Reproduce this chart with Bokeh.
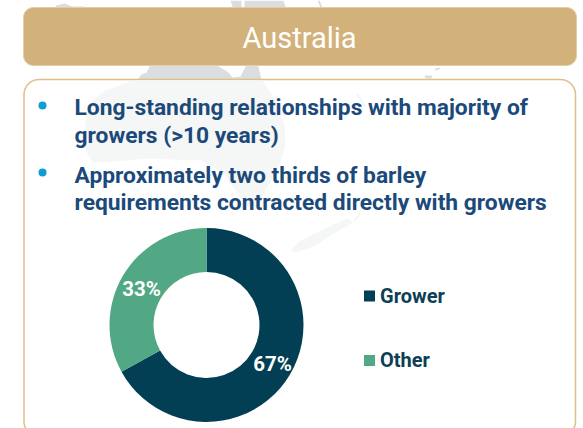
import numpy as np
from bokeh.plotting import figure
from bokeh.models import Range1d
from bokeh.core.properties import value
from bokeh.embed import file_html
from bokeh.resources import INLINE

# --- chart data ---
categories = ["Grower", "Other"]
shares = [67, 33]
share_labels = ["67%", "33%"]
slice_colors = ["#023F55", "#52A784"]
title_text = "Australia"
bullet_lines = [
    "Long-standing relationships with majority of",
    "growers (>10 years)",
    "Approximately two thirds of barley",
    "requirements contracted directly with growers",
]

W, H = 583, 428
FONT = "Roboto"
def Y(py):
    return H - np.asarray(py, dtype=float)

p = figure(width=W, height=H, output_backend="svg", toolbar_location=None,
           x_range=Range1d(0, W), y_range=Range1d(0, H),
           min_border=0, outline_line_color=None, background_fill_color="white")
p.axis.visible = False
p.grid.visible = False

def rrect(x0, y0, x1, y1, r):
    t = np.linspace(0, np.pi / 2, 12)
    xs = np.r_[x1 - r + r*np.sin(t), x1 - r + r*np.cos(t), x0 + r - r*np.sin(t), x0 + r - r*np.cos(t)]
    ys = np.r_[y0 + r - r*np.cos(t), y1 - r + r*np.sin(t), y1 - r + r*np.cos(t), y0 + r - r*np.sin(t)]
    return xs, Y(ys)

# faint map behind the panels
GRAY = "#DBDDDE"
gray_x = [137, 141, 146, 150, 215, 228, 232, 240, 246, 258, 261]
gray_y = [79, 74, 72, 64, 64, 72, 77, 76, 64, 66, 79]
p.patch(gray_x, Y(gray_y), color=GRAY, line_color=None)
for ix, iy in [([424, 432, 431, 425], [75, 75, 78, 78]),
               ([434, 440, 439, 435], [68, 67, 69, 70]),
               ([55, 64, 72, 84, 84, 58], [5, 3, 6, 6, 9, 9]),
               ([230, 241, 241, 233], [0, 0, 9, 9]),
               ([244, 283, 286, 278, 244], [0, 0, 9, 9, 9]),
               ([317, 319, 322, 320], [0, 0, 7, 7])]:
    p.patch(ix, Y(iy), color=GRAY, line_color=None)

# header and panel
hx, hy = rrect(23, 7, 576, 65, 10)
p.patch(hx, hy, color="#D2B27A", line_color="#E3CDA4", line_width=1)
bx, by = rrect(23.5, 79, 575, 436, 15)
p.patch(bx, by, fill_color="white", line_color="#DFBE8A", line_width=1.5)

LIGHT = "#F5F6F6"
land_x = [132, 105, 92, 85, 85, 92, 128, 145, 200, 222, 245, 255, 265, 277, 285, 284, 275, 262]
land_y = [80, 90, 100, 117, 150, 162, 160, 158, 160, 172, 204, 210, 190, 170, 145, 125, 100, 80]
p.patch(land_x, Y(land_y), color=LIGHT, line_color=None)
nz_x = [290, 300, 325, 342, 347, 352, 362, 358, 346, 335, 315, 296]
nz_y = [250, 240, 228, 220, 218, 222, 207, 218, 226, 232, 245, 252]
p.patch(nz_x, Y(nz_y), color=LIGHT, line_color=None)
p.patch([355, 358, 366, 363], Y([93, 93, 106, 106]), color=LIGHT, line_color=None)

# header title
p.text([299], Y([37]), text=[title_text], text_color="white", text_font=value(FONT),
       text_font_size="29px", text_align="center", text_baseline="middle")

# bullets
line_y = [107, 135, 175, 202]
p.text([74] * 4, Y(line_y), text=bullet_lines, text_color="#1B4A7A", text_font=value(FONT),
       text_font_style="bold", text_font_size="22.8px", text_align="left", text_baseline="middle")
p.circle([42, 42], Y([105, 172]), radius=4, color="#0E9FCF", line_color=None)

# donut, clockwise from 12 o'clock
fr = np.array(shares, dtype=float) / sum(shares)
cum = np.r_[0, np.cumsum(fr)]
start = np.pi / 2 - cum[1:] * 2 * np.pi
end = np.pi / 2 - cum[:-1] * 2 * np.pi
cx, cy = 206, Y(324.5)
p.annular_wedge([cx, cx], [cy, cy], inner_radius=53, outer_radius=97,
                start_angle=start, end_angle=end, color=slice_colors, line_color=None)
p.text([272, 141], Y([363, 288]), text=share_labels, text_color="white", text_font=value(FONT),
       text_font_style="bold", text_font_size="20.5px", text_align="center", text_baseline="middle")

# legend
lg_y = [295.5, 360]
p.rect([369, 369], Y(lg_y), width=11, height=11, color=slice_colors, line_color=None)
p.text([379.5, 379.5], Y([295, 359.5]), text=categories, text_color="#0D3F55", text_font=value(FONT),
       text_font_style="bold", text_font_size="20px", text_align="left", text_baseline="middle")

open("out.html", "w").write(file_html(p, INLINE))
